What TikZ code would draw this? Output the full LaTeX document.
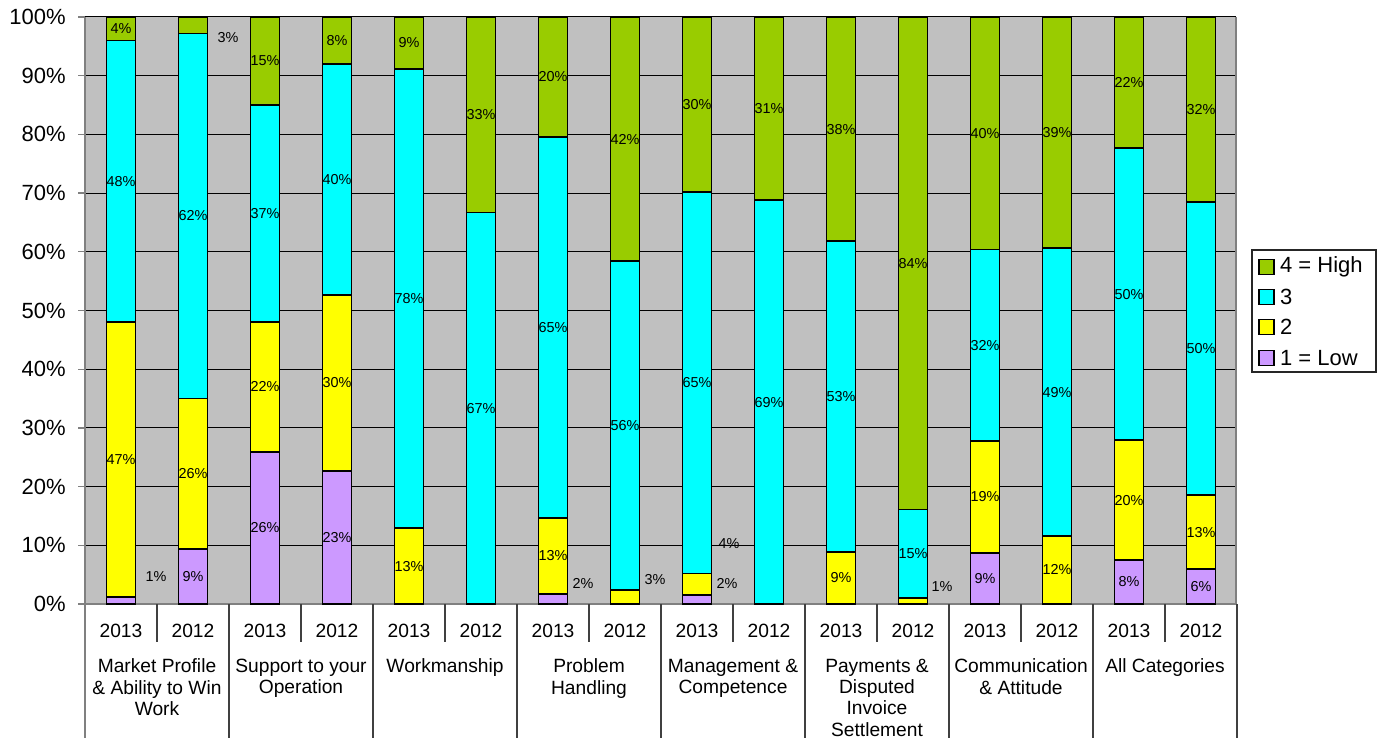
\documentclass[tikz,border=0pt]{standalone}
\usepackage{fontspec}
\setmainfont{Liberation Sans}
\usetikzlibrary{positioning}
\definecolor{chartgray}{HTML}{C0C0C0}
\definecolor{lowpurple}{HTML}{CC99FF}
\definecolor{twoyellow}{HTML}{FFFF00}
\definecolor{threecyan}{HTML}{00FFFF}
\definecolor{highgreen}{HTML}{99CC00}
\definecolor{axisgray}{HTML}{808080}

\begin{document}
\begin{tikzpicture}[
        x=0.75pt, y=-0.75pt,
        bar/.style={draw=black, line width=1.4pt},
        gridline/.style={draw=black, line width=0.75pt},
        axisline/.style={draw=axisgray, line width=1pt},
        catline/.style={draw=black!75, line width=0.8pt},
        pct/.style={font=\fontsize{10.8}{12}\selectfont, inner sep=0pt},
        ticklabel/.style={font=\fontsize{16.5}{18}\selectfont, anchor=east, inner sep=0pt},
        yearlabel/.style={font=\fontsize{14.4}{16}\selectfont, anchor=base, inner sep=0pt},
        catlabel/.style={font=\fontsize{14.4}{16}\selectfont, align=center, anchor=north, inner sep=0pt},
        legkey/.style={draw=black, line width=0.8pt, minimum size=11.25pt, inner sep=0pt},
        legtext/.style={font=\fontsize{16.5}{18}\selectfont, inner sep=0pt}
    ]
    \useasboundingbox (0,0) rectangle (1383,738);

    % plot area and grid
    \fill[chartgray] (85,17) rectangle (1236,604);
    \foreach \v in {10,20,...,100}
        \draw[gridline] (85,{604-5.87*\v}) -- (1236,{604-5.87*\v});
    \draw[axisline] (1236,17) -- (1236,604);
    \draw[axisline] (85,604) -- (1236,604);
    \draw[axisline] (85,17) -- (85,738);
    \foreach \v in {0,10,...,100} {
        \draw[axisline] (78,{604-5.87*\v}) -- (85,{604-5.87*\v});
        \node[ticklabel] (tick\v) at (66,{604-5.87*\v}) {\v\%};
    }

    % stacked bars: tops of 1, 2 and 3
    \foreach \i/\a/\b/\c in {1/1.25/48/96, 2/9.4/35/97.2, 3/25.9/48/85, 4/22.7/52.6/92,
            5/0/12.9/91.2, 6/0/0/66.7, 7/1.75/14.7/79.6, 8/0/2.4/58.4,
            9/1.6/5.2/70.2, 10/0/0/68.8, 11/0/8.9/61.8, 12/0/1.0/16.1,
            13/8.7/27.8/60.4, 14/0/11.6/60.6, 15/7.5/27.9/77.7, 16/5.9/18.6/68.5} {
        \pgfmathsetmacro\cx{85+72*(\i-0.5)}
        \filldraw[bar, fill=highgreen] ({\cx-14.5},{604-5.87*\c}) rectangle ({\cx+14.5},17);
        \filldraw[bar, fill=threecyan] ({\cx-14.5},{604-5.87*\b}) rectangle ({\cx+14.5},{604-5.87*\c});
        \filldraw[bar, fill=twoyellow] ({\cx-14.5},{604-5.87*\a}) rectangle ({\cx+14.5},{604-5.87*\b});
        \filldraw[bar, fill=lowpurple] ({\cx-14.5},604) rectangle ({\cx+14.5},{604-5.87*\a});
    }

    % labels inside the bars
    \foreach \i/\m/\t [count=\n] in {1/24.6/47, 1/72/48, 1/98/4,
            2/4.7/9, 2/22.2/26, 2/66.1/62,
            3/13/26, 3/37/22, 3/66.5/37, 3/92.5/15,
            4/11.4/23, 4/37.7/30, 4/72.3/40, 4/96/8,
            5/6.45/13, 5/52/78, 5/95.6/9,
            6/33.35/67, 6/83.35/33,
            7/8.2/13, 7/47.15/65, 7/89.8/20,
            8/30.4/56, 8/79.2/42,
            9/37.7/65, 9/85.1/30,
            10/34.4/69, 10/84.4/31,
            11/4.45/9, 11/35.35/53, 11/80.9/38,
            12/8.55/15, 12/58/84,
            13/4.35/9, 13/18.25/19, 13/44.1/32, 13/80.2/40,
            14/5.8/12, 14/36.1/49, 14/80.3/39,
            15/3.75/8, 15/17.7/20, 15/52.8/50, 15/88.85/22,
            16/2.95/6, 16/12.25/13, 16/43.55/50, 16/84.25/32}
        \node[pct] (pct\n) at ({85+72*(\i-0.5)},{604-5.87*\m}) {\t\%};

    % labels moved beside thin segments
    \node[pct] (out1) at (156,577) {1\%};
    \node[pct] (out2) at (228,38) {3\%};
    \node[pct] (out3) at (583,584) {2\%};
    \node[pct] (out4) at (655,580) {3\%};
    \node[pct] (out5) at (729,544) {4\%};
    \node[pct] (out6) at (727,584) {2\%};
    \node[pct] (out7) at (942,587) {1\%};

    % category axis table
    \foreach \k in {1,...,8}
        \draw[catline] ({85+144*\k},604) -- ({85+144*\k},738);
    \foreach \k in {0,...,7}
        \draw[catline] ({157+144*\k},604) -- ({157+144*\k},642);
    \foreach \k in {1,...,8} {
        \node[yearlabel] (y13-\k) at ({121+144*(\k-1)},637.5) {2013};
        \node[yearlabel] (y12-\k) at ({193+144*(\k-1)},637.5) {2012};
    }
    \foreach \k/\t in {1/{Market Profile\\\& Ability to Win\\Work},
            2/{Support to your\\Operation},
            3/{Workmanship},
            4/{Problem\\Handling},
            5/{Management \&\\Competence},
            6/{Payments \&\\Disputed\\Invoice\\Settlement},
            7/{Communication\\\& Attitude},
            8/{All Categories}}
        \node[catlabel] (cat\k) at ({157+144*(\k-1)},658.6) {\t};

    % legend
    \node[draw=black!85, line width=0.8pt, fill=white, minimum width=93pt, minimum height=91.5pt, inner sep=0pt] (legend) at (1314,311) {};
    \node[legkey, fill=highgreen] (key4) at (1266.5,267) {};
    \node[legkey, fill=threecyan] (key3) at (1266.5,297) {};
    \node[legkey, fill=twoyellow] (key2) at (1266.5,327) {};
    \node[legkey, fill=lowpurple] (key1) at (1266.5,358) {};
    \node[legtext, right=4pt of key4] (leg4) {4 = High};
    \node[legtext, right=4pt of key3] (leg3) {3};
    \node[legtext, right=4pt of key2] (leg2) {2};
    \node[legtext, right=4pt of key1] (leg1) {1 = Low};
\end{tikzpicture}
\end{document}
